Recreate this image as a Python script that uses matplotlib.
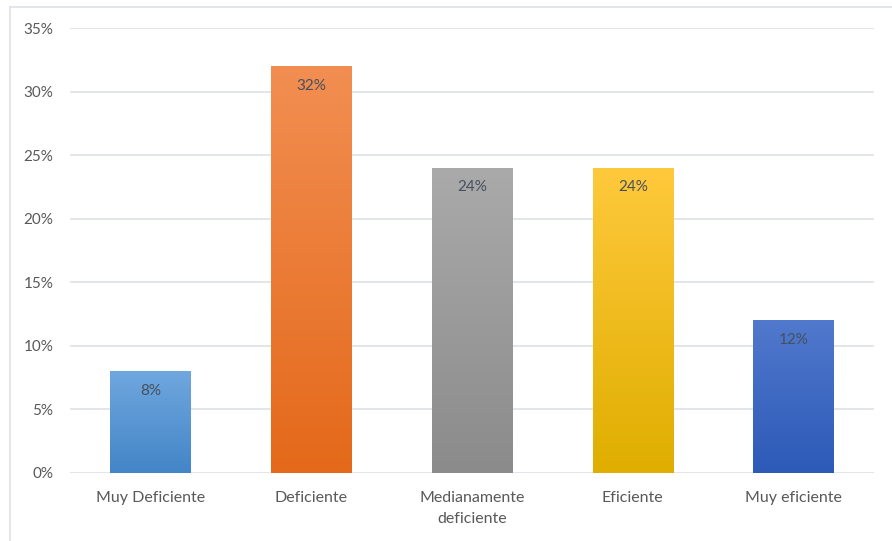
import numpy as np
import matplotlib.pyplot as plt
from matplotlib.colors import LinearSegmentedColormap
from matplotlib.lines import Line2D

categories = ["Muy Deficiente", "Deficiente", "Medianamente\ndeficiente", "Eficiente", "Muy eficiente"]
values = [8, 32, 24, 24, 12]
# (top colour, bottom colour) for each bar's vertical gradient
bar_colors = [
    ("#70a7de", "#4385c7"),
    ("#f28e52", "#e4691a"),
    ("#aaaaaa", "#8b8b8b"),
    ("#ffc93c", "#dfae00"),
    ("#5179cd", "#2c5ab7"),
]

plt.rcParams['font.family'] = ['Lato', 'DejaVu Sans']

fig = plt.figure(figsize=(8.92, 5.41), dpi=100)
ax = fig.add_axes([70 / 892, 1 - 473 / 541, 804 / 892, 445 / 541])

x = np.arange(len(categories))
bars = ax.bar(x, values, width=0.5, color="none", edgecolor="none")

grad = np.linspace(0, 1, 256).reshape(-1, 1)
for b, (top, bottom), v in zip(bars, bar_colors, values):
    cmap = LinearSegmentedColormap.from_list("g", [bottom, top])
    bx, by = b.get_x(), b.get_y()
    im = ax.imshow(grad, cmap=cmap, origin="lower", aspect="auto",
                   extent=[bx, bx + b.get_width(), by, by + b.get_height()], zorder=2)
    im.set_clip_path(b)
    ax.annotate(f"{v}%", (b.get_x() + b.get_width() / 2, v), xytext=(0, -14),
                textcoords="offset points", ha="center", va="center",
                fontsize=11, color="#45505f", zorder=3)

ax.set_xlim(-0.5, len(categories) - 0.5)
ax.set_ylim(0, 35)
ax.set_yticks(range(0, 36, 5))
ax.set_yticklabels([f"{t}%" for t in range(0, 36, 5)])
ax.set_xticks(x)
ax.set_xticklabels(categories, linespacing=1.6)
ax.tick_params(length=0, labelsize=11.5, colors="#595959")
ax.tick_params(axis="y", labelsize=11, pad=12)
ax.tick_params(axis="x", pad=13)
ax.grid(axis="y", color="#dde1e8", linewidth=1.2)
ax.set_axisbelow(True)
for s in ax.spines.values():
    s.set_visible(False)

# chart area border (left and top edges visible)
fig.add_artist(Line2D([10 / 892, 10 / 892], [0, 1 - 7 / 541], transform=fig.transFigure,
                      color="#dde1e8", linewidth=1.2))
fig.add_artist(Line2D([10 / 892, 1], [1 - 7 / 541, 1 - 7 / 541], transform=fig.transFigure,
                      color="#dde1e8", linewidth=1.2))

fig.savefig("out.png", dpi=100)
